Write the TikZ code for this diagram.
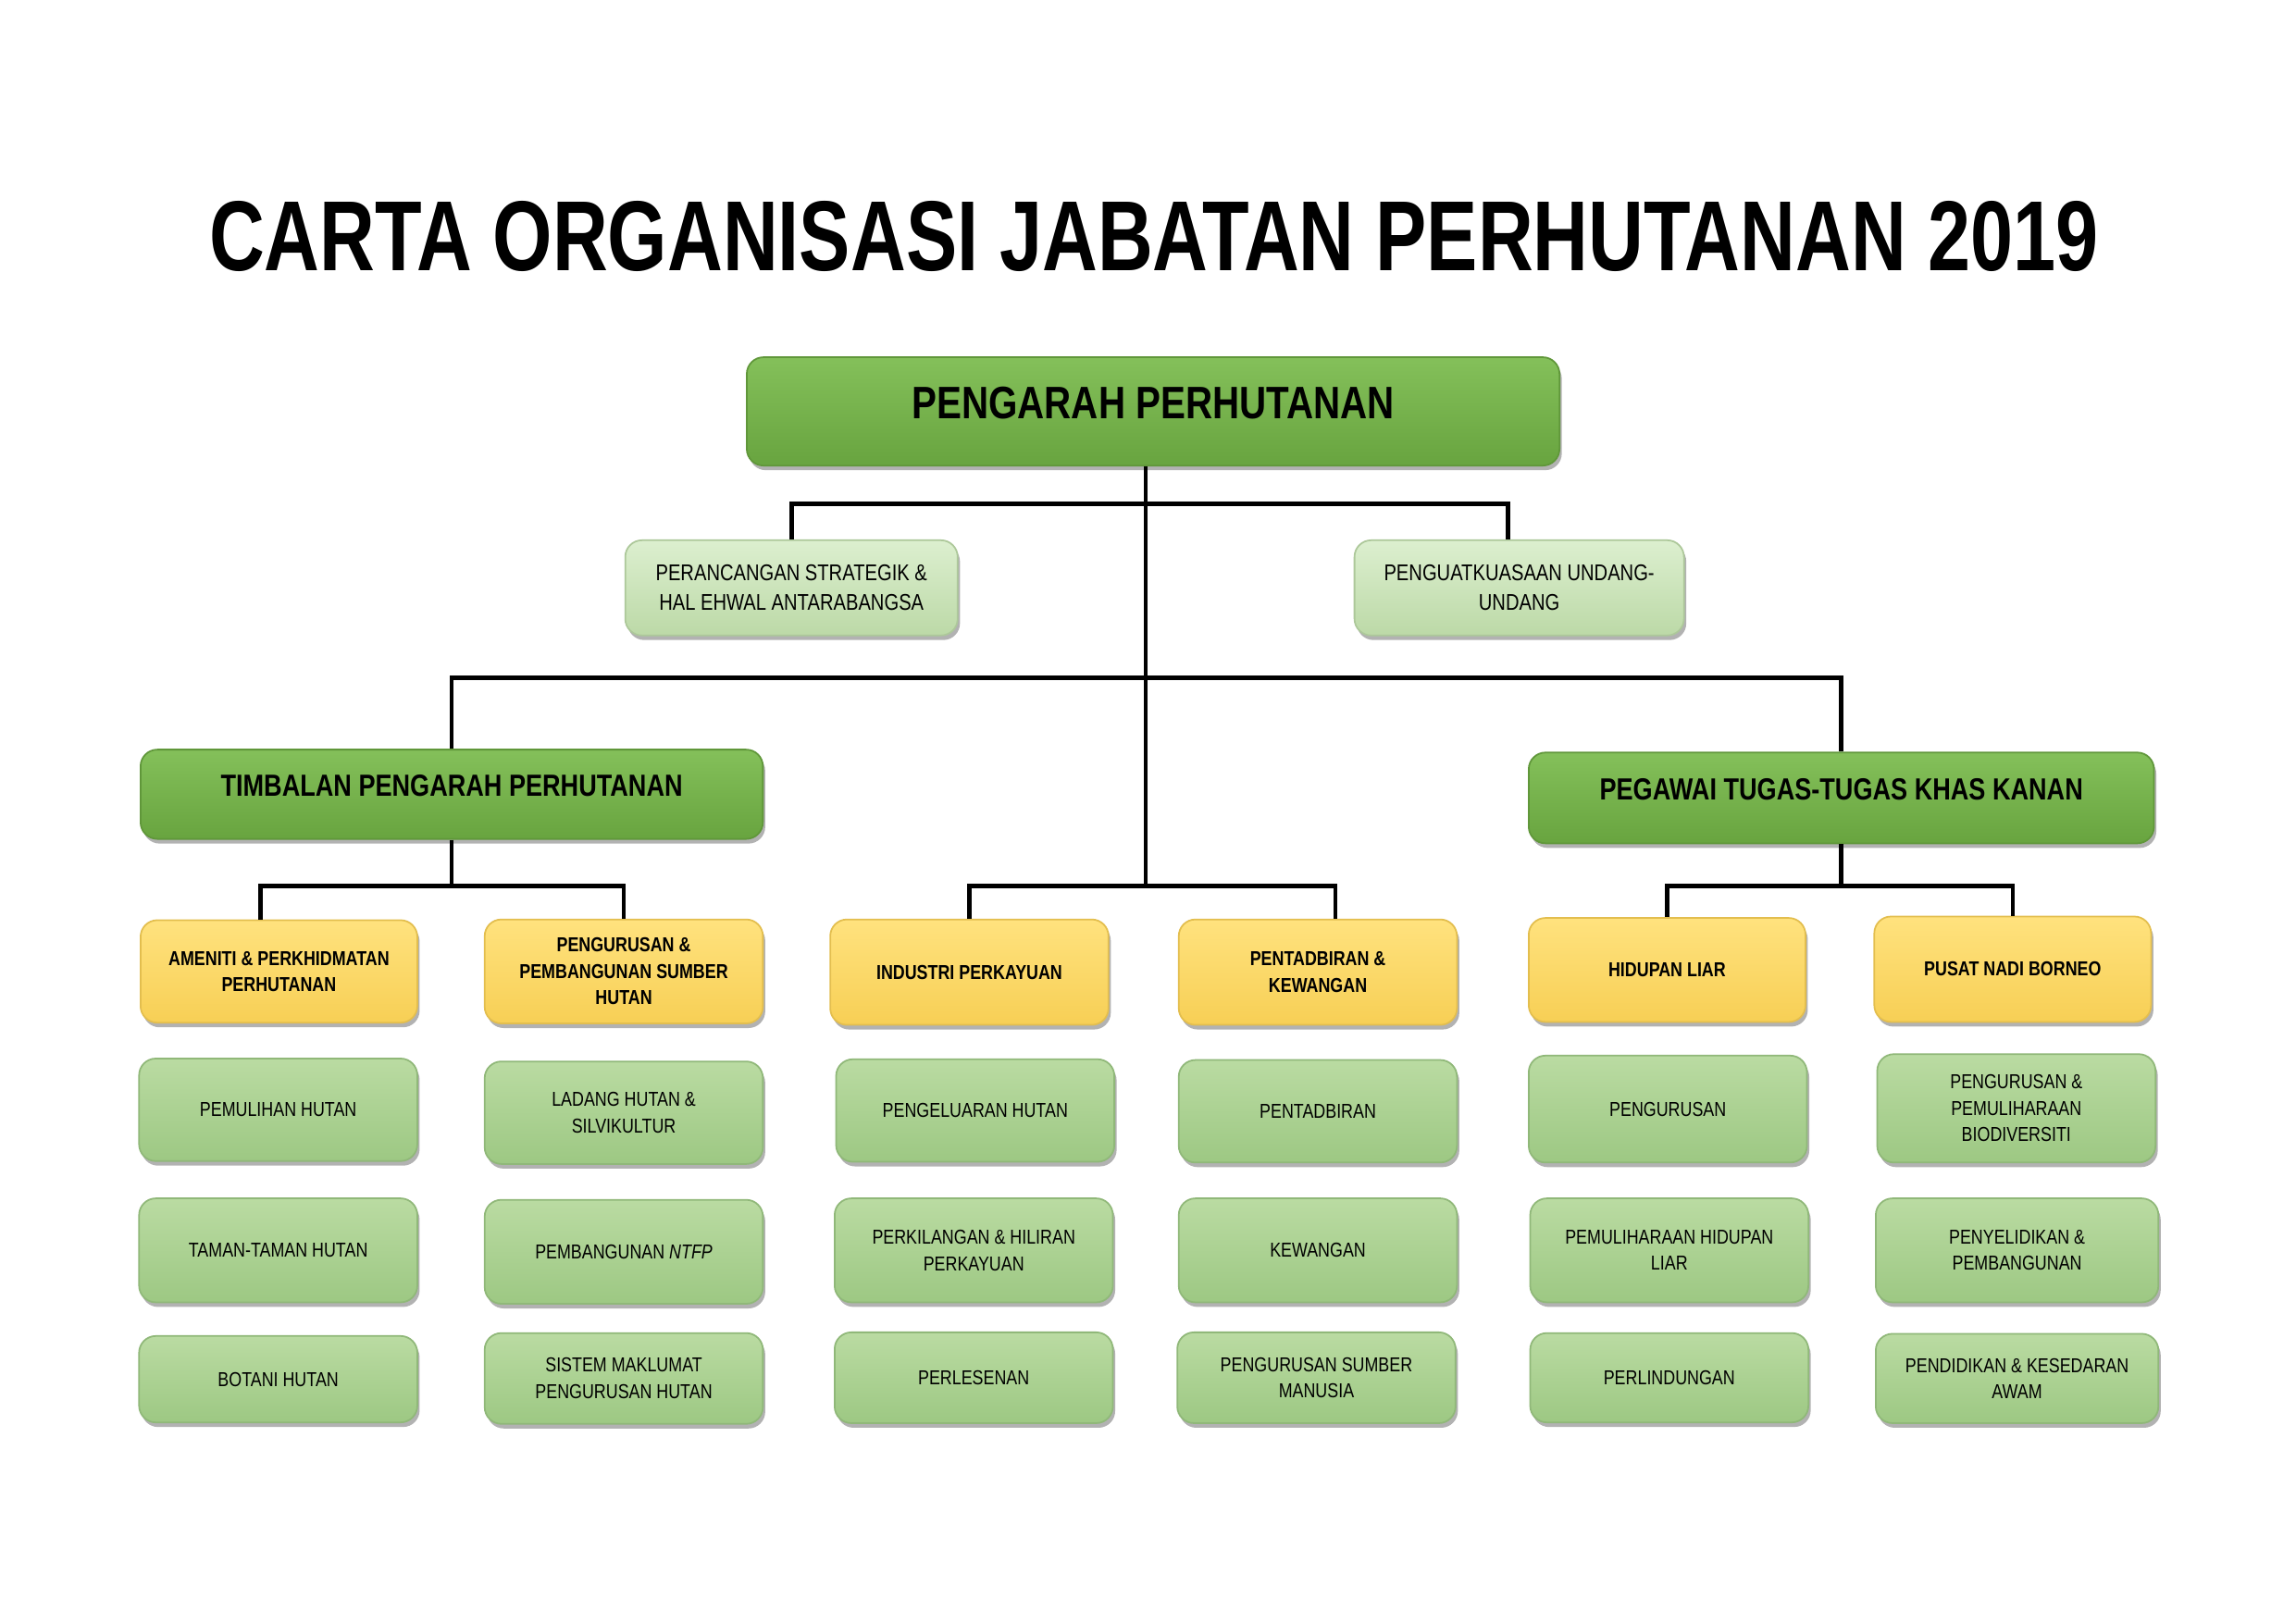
\documentclass[tikz,border=0pt]{standalone}
\usepackage{fontspec}
\setmainfont{Liberation Sans}[FakeStretch=0.82]
\newfontfamily\titlefont{Liberation Sans}[FakeStretch=0.77]
\usetikzlibrary{shadows}
\definecolor{dgT}{HTML}{84C05A}
\definecolor{dgB}{HTML}{68A43F}
\definecolor{lgT}{HTML}{DCEFCF}
\definecolor{lgB}{HTML}{BCD9A7}
\definecolor{yT}{HTML}{FFE27E}
\definecolor{yB}{HTML}{F7CF55}
\definecolor{mgT}{HTML}{BADBA2}
\definecolor{mgB}{HTML}{9DC883}
\tikzset{
  boxbase/.style={rounded corners=0.18cm, line width=0.5pt, align=center, inner sep=1pt,
    drop shadow={shadow xshift=0.025cm, shadow yshift=-0.05cm, opacity=0.3, fill=black}},
  sz/.style 2 args={minimum width=#1*0.015823cm, minimum height=#2*0.015823cm},
  dgbox/.style={boxbase, top color=dgT, bottom color=dgB, draw=dgB!92!black},
  lgbox/.style={boxbase, top color=lgT, bottom color=lgB, draw=lgB!92!black,
    font=\fontsize{7}{9}\selectfont},
  ybox/.style={boxbase, top color=yT, bottom color=yB, draw=yB!92!black,
    font=\fontsize{6.2}{8.1}\selectfont\bfseries},
  mgbox/.style={boxbase, top color=mgT, bottom color=mgB, draw=mgB!92!black,
    font=\fontsize{6.2}{8.1}\selectfont},
  conn/.style={line width=1.3pt, black}
}
\begin{document}
\begin{tikzpicture}[x=0.015823cm, y=-0.015823cm]
\useasboundingbox[fill=white] (0,0) rectangle (1568,1108.5);

\node[font=\titlefont\fontsize{30.6}{34}\selectfont\bfseries, anchor=base] (title) at (788,185)
  {CARTA ORGANISASI JABATAN PERHUTANAN 2019};

% level 1
\node[dgbox, sz={555}{74}, font=\fontsize{14}{16}\selectfont\bfseries, text depth=0.19cm] (dir) at (787.5,281) {PENGARAH PERHUTANAN};
% level 2
\node[lgbox, sz={227}{65}] (peran) at (540.5,401.5) {PERANCANGAN STRATEGIK \&\\HAL EHWAL ANTARABANGSA};
\node[lgbox, sz={225}{65}] (pengu) at (1037.5,401.5) {PENGUATKUASAAN UNDANG-\\UNDANG};
% level 3
\node[dgbox, sz={425}{61}, font=\fontsize{9.4}{11}\selectfont\bfseries, text depth=0.19cm] (tim) at (308.5,542.5) {TIMBALAN PENGARAH PERHUTANAN};
\node[dgbox, sz={427}{62}, font=\fontsize{9.4}{11}\selectfont\bfseries, text depth=0.19cm] (peg) at (1257.5,545) {PEGAWAI TUGAS-TUGAS KHAS KANAN};
% level 4
\node[ybox, sz={189}{70}] (ame) at (190.5,663.5) {AMENITI \& PERKHIDMATAN\\PERHUTANAN};
\node[ybox, sz={190}{71}] (ppsh) at (426,663.5) {PENGURUSAN \&\\PEMBANGUNAN SUMBER\\HUTAN};
\node[ybox, sz={190}{72}] (ind) at (662,664) {INDUSTRI PERKAYUAN};
\node[ybox, sz={190}{72}] (ptk) at (900,664) {PENTADBIRAN \&\\KEWANGAN};
\node[ybox, sz={189}{71}] (hid) at (1138.5,662.5) {HIDUPAN LIAR};
\node[ybox, sz={189}{72}] (pus) at (1374.5,662) {PUSAT NADI BORNEO};
% row A
\node[mgbox, sz={190}{70}] (pem) at (190,758) {PEMULIHAN HUTAN};
\node[mgbox, sz={190}{70}] (lad) at (426,760) {LADANG HUTAN \&\\SILVIKULTUR};
\node[mgbox, sz={190}{70}] (pgl) at (666,758.5) {PENGELUARAN HUTAN};
\node[mgbox, sz={190}{70}] (ptd) at (900,759) {PENTADBIRAN};
\node[mgbox, sz={190}{73}] (pgr) at (1139,757.5) {PENGURUSAN};
\node[mgbox, sz={190}{74}] (bio) at (1377,757) {PENGURUSAN \&\\PEMULIHARAAN\\BIODIVERSITI};
% row B
\node[mgbox, sz={190}{71}] (tam) at (190,854) {TAMAN-TAMAN HUTAN};
\node[mgbox, sz={190}{71}] (ntfp) at (426,855) {PEMBANGUNAN \textit{NTFP}};
\node[mgbox, sz={190}{71}] (pkl) at (665,854) {PERKILANGAN \& HILIRAN\\PERKAYUAN};
\node[mgbox, sz={190}{71}] (kew) at (900,854) {KEWANGAN};
\node[mgbox, sz={190}{71}] (phl) at (1140,854) {PEMULIHARAAN HIDUPAN\\LIAR};
\node[mgbox, sz={193}{71}] (pny) at (1377.5,854) {PENYELIDIKAN \&\\PEMBANGUNAN};
% row C
\node[mgbox, sz={190}{59}] (bot) at (190,942) {BOTANI HUTAN};
\node[mgbox, sz={190}{62}] (sis) at (426,941.5) {SISTEM MAKLUMAT\\PENGURUSAN HUTAN};
\node[mgbox, sz={190}{62}] (prl) at (665,941) {PERLESENAN};
\node[mgbox, sz={190}{62}] (psm) at (899,941) {PENGURUSAN SUMBER\\MANUSIA};
\node[mgbox, sz={190}{61}] (pld) at (1140,941) {PERLINDUNGAN};
\node[mgbox, sz={193}{61}] (pdk) at (1377.5,941.5) {PENDIDIKAN \& KESEDARAN\\AWAM};

% bus levels
\coordinate (b1) at (0,344);
\coordinate (b2) at (0,463);
\coordinate (b3) at (0,605);

% connectors
\draw[conn] ([xshift=-0.08cm]dir.south) -- ([xshift=-0.08cm]dir.south |- b3);
\draw[conn] (peran.north) |- ([xshift=-0.12cm]pengu.north |- b1) -- ([xshift=-0.12cm]pengu.north);
\draw[conn] (tim.north) |- (peg.north |- b2) -- (peg.north);
\draw[conn] (ind.north) |- ([xshift=0.19cm]ptk.north |- b3) -- ([xshift=0.19cm]ptk.north);
\draw[conn] (tim.south) -- (tim.south |- b3);
\draw[conn] ([xshift=-0.2cm]ame.north) |- (ppsh.north |- b3) -- (ppsh.north);
\draw[conn] (peg.south) -- (peg.south |- b3);
\draw[conn] (hid.north) |- (pus.north |- b3) -- (pus.north);
\end{tikzpicture}
\end{document}
